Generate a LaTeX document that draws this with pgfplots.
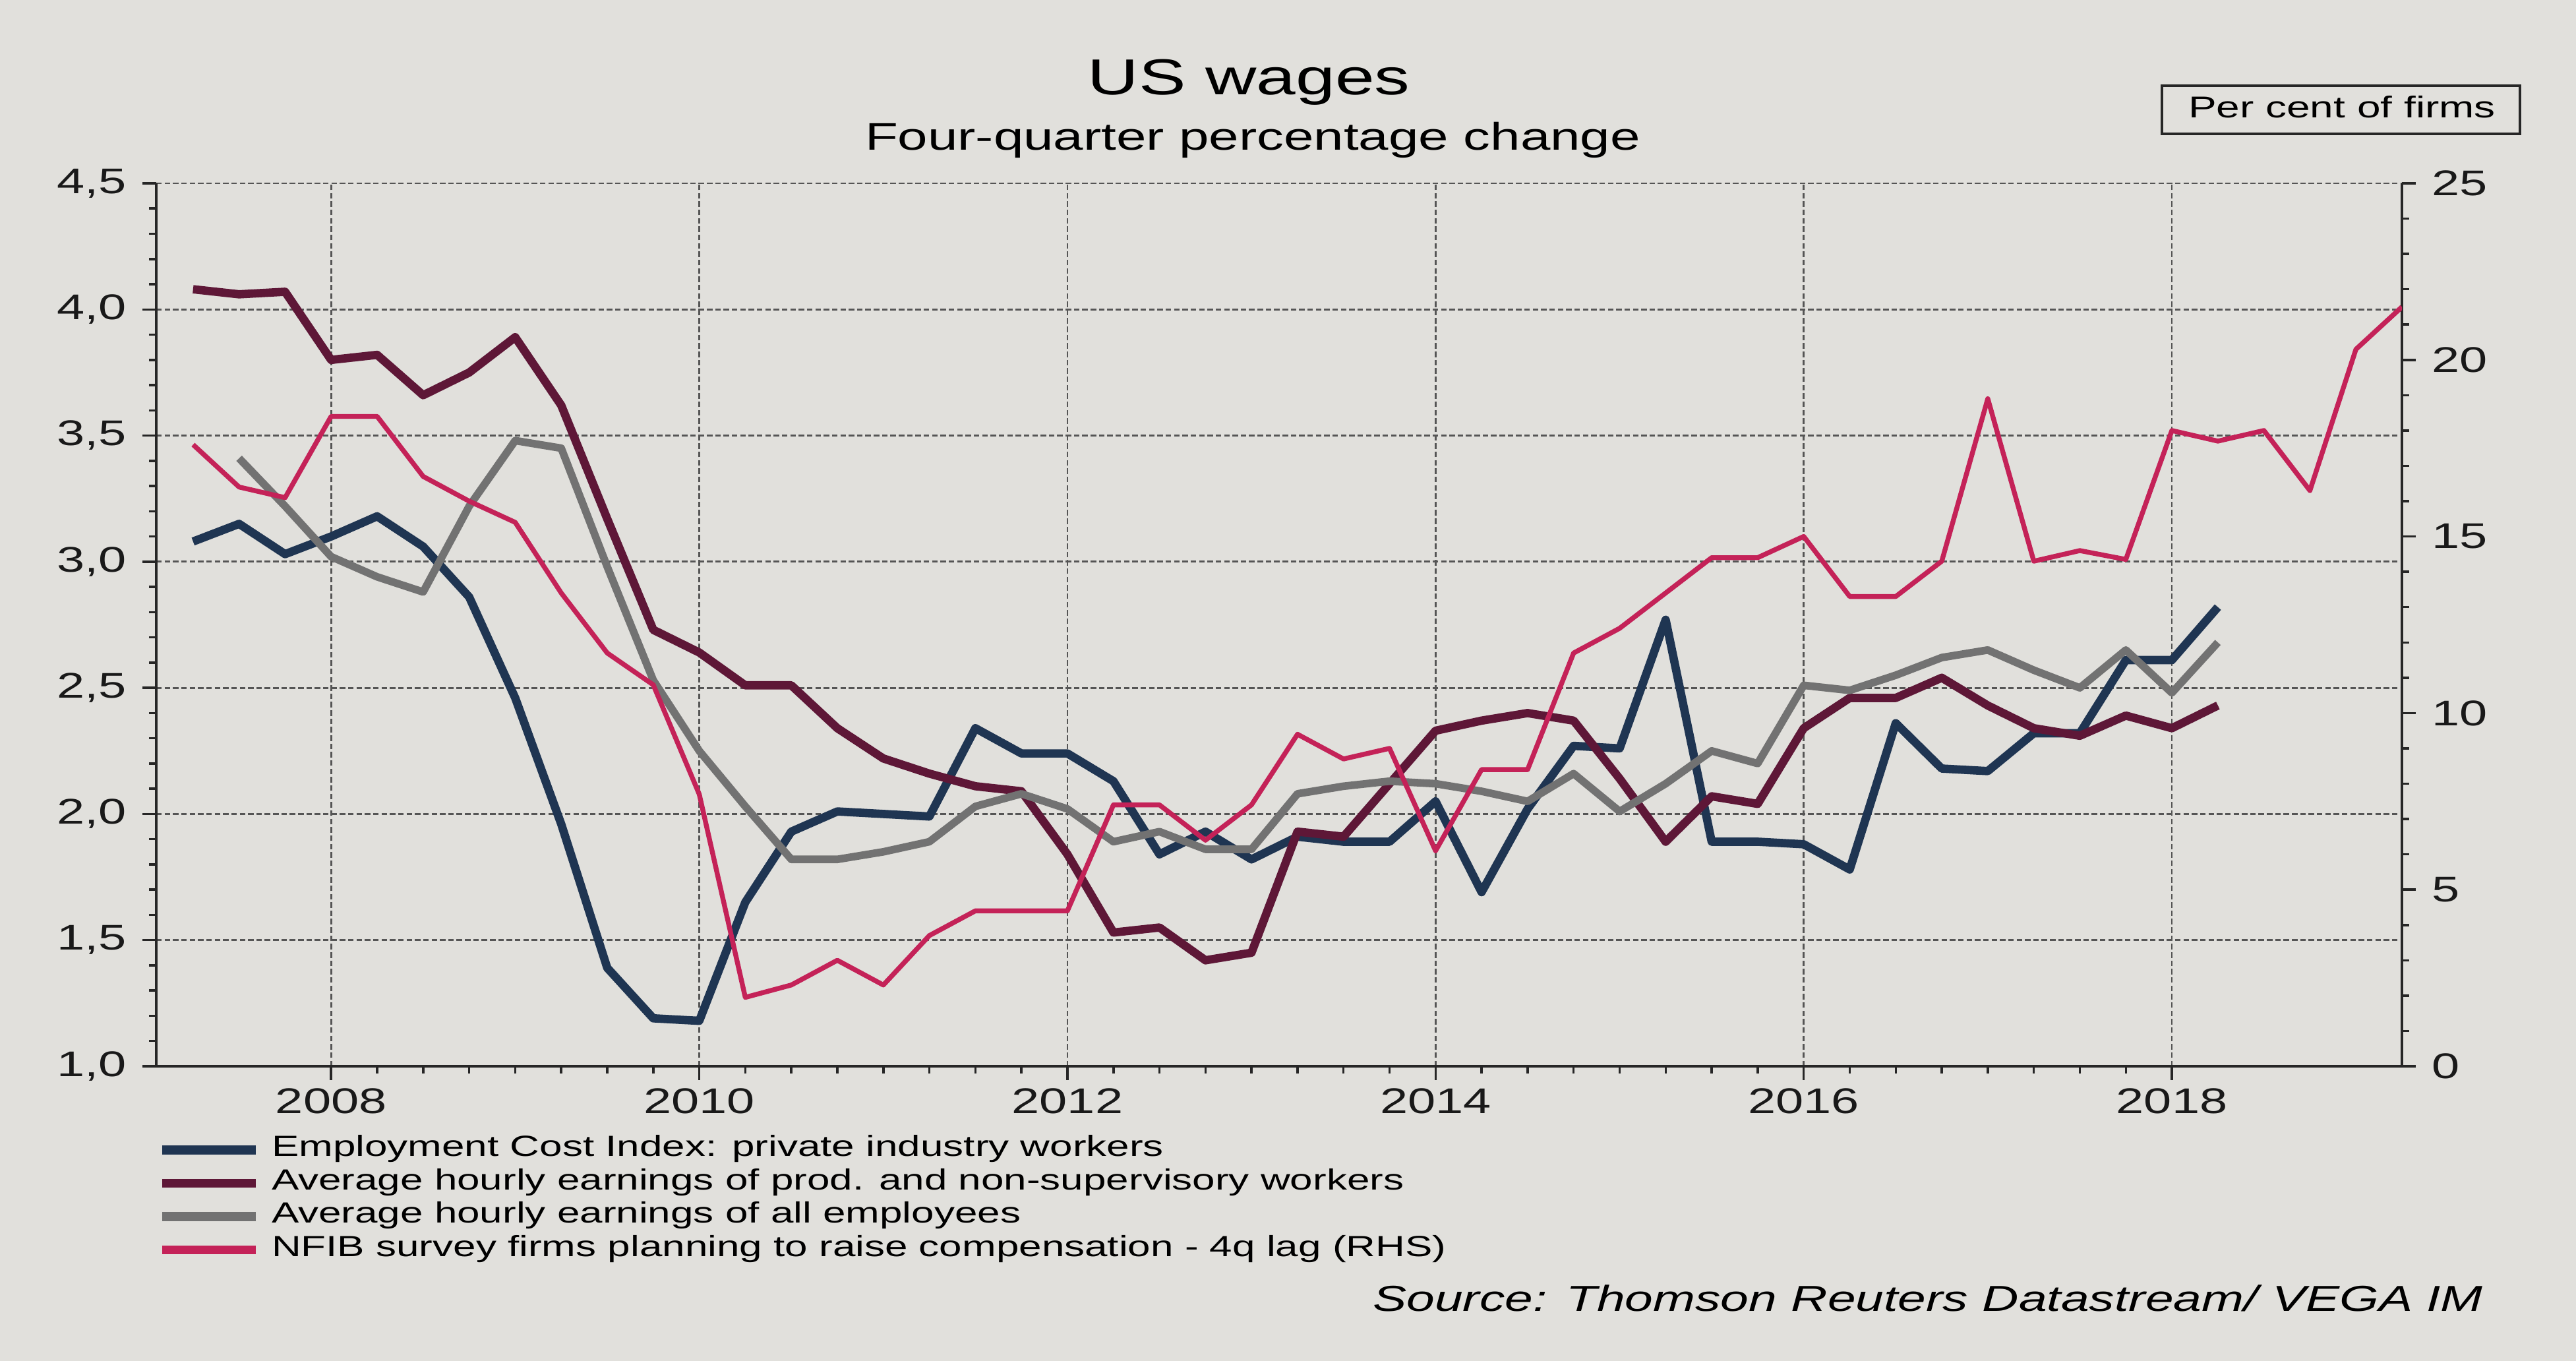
\documentclass[border=0pt]{standalone}
\usepackage{fontspec}
\setmainfont{Liberation Sans}[FakeStretch=1.4]
\usepackage{pgfplots}
\usepackage{pgfplotstable}
\pgfplotsset{compat=1.18}
\definecolor{bg}{HTML}{E1E0DC}
\definecolor{eci}{HTML}{1F3552}
\definecolor{ahep}{HTML}{5E1737}
\definecolor{ahe}{HTML}{727272}
\definecolor{nfib}{HTML}{C42258}
\definecolor{gridc}{HTML}{555555}

\pgfplotstableread{
x y
2007.25 3.08
2007.5 3.15
2007.75 3.03
2008.0 3.10
2008.25 3.18
2008.5 3.06
2008.75 2.86
2009.0 2.46
2009.25 1.96
2009.5 1.39
2009.75 1.19
2010.0 1.18
2010.25 1.65
2010.5 1.93
2010.75 2.01
2011.0 2.00
2011.25 1.99
2011.5 2.34
2011.75 2.24
2012.0 2.24
2012.25 2.13
2012.5 1.84
2012.75 1.93
2013.0 1.82
2013.25 1.91
2013.5 1.89
2013.75 1.89
2014.0 2.05
2014.25 1.69
2014.5 2.02
2014.75 2.27
2015.0 2.26
2015.25 2.77
2015.5 1.89
2015.75 1.89
2016.0 1.88
2016.25 1.78
2016.5 2.36
2016.75 2.18
2017.0 2.17
2017.25 2.32
2017.5 2.32
2017.75 2.61
2018.0 2.61
2018.25 2.82
}\eciT

\pgfplotstableread{
x y
2007.25 4.08
2007.5 4.06
2007.75 4.07
2008.0 3.80
2008.25 3.82
2008.5 3.66
2008.75 3.75
2009.0 3.89
2009.25 3.62
2009.5 3.17
2009.75 2.73
2010.0 2.64
2010.25 2.51
2010.5 2.51
2010.75 2.34
2011.0 2.22
2011.25 2.16
2011.5 2.11
2011.75 2.09
2012.0 1.84
2012.25 1.53
2012.5 1.55
2012.75 1.42
2013.0 1.45
2013.25 1.93
2013.5 1.91
2013.75 2.12
2014.0 2.33
2014.25 2.37
2014.5 2.40
2014.75 2.37
2015.0 2.14
2015.25 1.89
2015.5 2.07
2015.75 2.04
2016.0 2.34
2016.25 2.46
2016.5 2.46
2016.75 2.54
2017.0 2.43
2017.25 2.34
2017.5 2.31
2017.75 2.39
2018.0 2.34
2018.25 2.43
}\ahepT

\pgfplotstableread{
x y
2007.5 3.41
2007.75 3.22
2008.0 3.02
2008.25 2.94
2008.5 2.88
2008.75 3.22
2009.0 3.48
2009.25 3.45
2009.5 2.98
2009.75 2.53
2010.0 2.25
2010.25 2.03
2010.5 1.82
2010.75 1.82
2011.0 1.85
2011.25 1.89
2011.5 2.03
2011.75 2.08
2012.0 2.02
2012.25 1.89
2012.5 1.93
2012.75 1.86
2013.0 1.86
2013.25 2.08
2013.5 2.11
2013.75 2.13
2014.0 2.12
2014.25 2.09
2014.5 2.05
2014.75 2.16
2015.0 2.01
2015.25 2.12
2015.5 2.25
2015.75 2.20
2016.0 2.51
2016.25 2.49
2016.5 2.55
2016.75 2.62
2017.0 2.65
2017.25 2.57
2017.5 2.50
2017.75 2.65
2018.0 2.48
2018.25 2.68
}\aheT

\pgfplotstableread{
x y
2007.25 17.6
2007.5 16.4
2007.75 16.1
2008.0 18.4
2008.25 18.4
2008.5 16.7
2008.75 16.0
2009.0 15.4
2009.25 13.4
2009.5 11.7
2009.75 10.8
2010.0 7.7
2010.25 1.95
2010.5 2.3
2010.75 3.0
2011.0 2.3
2011.25 3.7
2011.5 4.4
2011.75 4.4
2012.0 4.4
2012.25 7.4
2012.5 7.4
2012.75 6.4
2013.0 7.4
2013.25 9.4
2013.5 8.7
2013.75 9.0
2014.0 6.1
2014.25 8.4
2014.5 8.4
2014.75 11.7
2015.0 12.4
2015.25 13.4
2015.5 14.4
2015.75 14.4
2016.0 15.0
2016.25 13.3
2016.5 13.3
2016.75 14.3
2017.0 18.9
2017.25 14.3
2017.5 14.6
2017.75 14.35
2018.0 18.0
2018.25 17.7
2018.5 18.0
2018.75 16.3
2019.0 20.3
2019.25 21.5
}\nfibT

\begin{document}
\begin{tikzpicture}
\fill[bg] (0,0) rectangle (39.07,20.64);
\useasboundingbox (0,0) rectangle (39.07,20.64);
\pgfplotsset{
  common/.style={
    at={(2.37cm,4.47cm)}, anchor=south west,
    scale only axis, width=34.06cm, height=13.39cm,
    xmin=2007.05, xmax=2019.25,
    axis line style={line width=1pt, black!85},
    tick style={line width=1pt, black!85},
    tick align=outside,
    major tick length=0.21cm, minor tick length=0.11cm,
    /pgf/number format/assume math mode=true,
    tick label style={font=\fontsize{15.4}{18}\selectfont, black!90},
  }
}
\begin{axis}[common,
  ymin=1, ymax=4.5,
  axis x line*=bottom, axis y line*=left,
  xtick={2008,2010,2012,2014,2016,2018},
  xticklabels={2008,2010,2012,2014,2016,2018},
  minor x tick num=7,
  ytick={1,1.5,2,2.5,3,3.5,4,4.5},
  yticklabels={{1,0},{1,5},{2,0},{2,5},{3,0},{3,5},{4,0},{4,5}},
  minor y tick num=4,
  yticklabel style={xshift=-0.12cm},
  grid=major,
  major grid style={gridc, line width=0.8pt, dash pattern=on 2.4pt off 1.2pt},
  legend cell align=left,
  legend style={at={(0.0005,-0.0754)}, anchor=north west, draw=none, fill=none,
    font=\fontsize{12.6}{15}\selectfont, inner sep=0pt, column sep=0.17cm, row sep=0pt,
    nodes={inner sep=0pt, text height=0.35cm, text depth=0.155cm}},
  legend image code/.code={\draw[#1, line width=3.9pt] (0cm,0cm) -- (1.42cm,0cm);},
]
\addplot[eci, line width=3.6pt, line join=round] table[x=x,y=y] {\eciT};
\addlegendentry{Employment Cost Index: private industry workers}
\addplot[ahep, line width=3.6pt, line join=round] table[x=x,y=y] {\ahepT};
\addlegendentry{Average hourly earnings of prod. and non-supervisory workers}
\addplot[ahe, line width=3.3pt, line join=round] table[x=x,y=y] {\aheT};
\addlegendentry{Average hourly earnings of all employees}
\addlegendimage{nfib, line width=2.1pt}
\addlegendentry{NFIB survey firms planning to raise compensation - 4q lag (RHS)}
\end{axis}
\begin{axis}[common,
  ymin=0, ymax=25,
  axis x line=none, axis y line*=right,
  ytick={0,5,10,15,20,25},
  minor y tick num=4,
  yticklabel style={xshift=0.12cm},
]
\addplot[nfib, line width=2.1pt, line join=round] table[x=x,y=y] {\nfibT};
\end{axis}
\node[anchor=base, font=\fontsize{21.8}{26}\selectfont] at (18.94,19.2) {US wages};
\node[anchor=base, font=\fontsize{16.6}{20}\selectfont] at (19.00,18.36) {Four-quarter percentage change};
\draw[line width=1pt, black!85] (32.79,19.34) rectangle (38.22,18.61);
\node[anchor=center, font=\fontsize{13}{16}\selectfont] at (35.52,19.02) {Per cent of firms};
\node[anchor=base west, font=\fontsize{15.6}{19}\selectfont\itshape] at (20.70,0.75) {Source: Thomson Reuters Datastream/ VEGA IM};
\end{tikzpicture}
\end{document}
